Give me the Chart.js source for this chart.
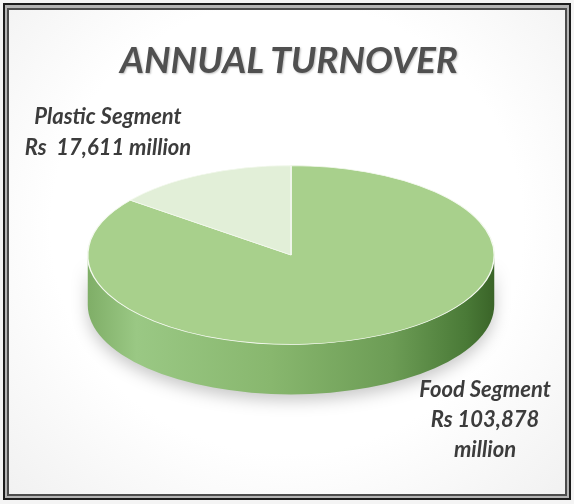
<!DOCTYPE html>
<html>
<head>
<meta charset="utf-8">
<script src="https://cdn.jsdelivr.net/npm/chart.js@4.4.0/dist/chart.umd.min.js"></script>
<style>
  body { margin: 0; background: #f4f4f4; }
  #wrap { position: relative; width: 574px; height: 504px; overflow: hidden; }
  .frame { position: absolute; left: 3px; top: 3px; width: 568px; height: 497px; box-sizing: border-box;
           border: 2px solid #1c1c1c; background: #b4b4b4; }
  .inner { position: absolute; left: 2px; top: 3px; right: 2px; bottom: 2px;
           border: 2px solid #4c4c4c;
           background: radial-gradient(ellipse at 50% 45%, #ffffff 60%, #f1f1f1 100%); }
  canvas { position: absolute; left: 0; top: 0; }
  .txt { position: absolute; font-family: Lato, "Open Sans", sans-serif; font-weight: bold; font-style: italic;
         color: #3c3c3c; white-space: pre; text-align: center; }
  #title { left: 0; width: 578px; top: 37px; font-size: 37px; line-height: 44px; color: #505050;
           text-shadow: 1px 1px 2px rgba(0,0,0,0.25); }
  #plasticLbl { left: 8px; width: 200px; top: 100px; font-size: 22px; line-height: 31px; }
  #foodLbl { left: 395px; width: 180px; top: 374px; font-size: 22px; line-height: 30px; }
</style>
</head>
<body>
<div id="wrap">
  <div class="frame"><div class="inner"></div></div>
  <canvas id="myChart" width="574" height="504"></canvas>
  <div class="txt" id="title"></div>
  <div class="txt" id="plasticLbl"></div>
  <div class="txt" id="foodLbl"></div>
</div>
<script>
'use strict'
// chart data
var chartTitle = 'ANNUAL TURNOVER';
var segments = ['Food Segment', 'Plastic Segment'];
var turnover = [103878, 17611];
var unitText = 'million';
var sliceColors = ['#a8d08c', '#e2efd8'];

// squash of the pie and height of its side
var flat = 0.44;
var depth = 50;

function fmt(v) {
    return v.toLocaleString('en-US');
}

document.getElementById('title').textContent = chartTitle;
document.getElementById('plasticLbl').textContent = segments[1] + '\nRs  ' + fmt(turnover[1]) + ' ' + unitText;
document.getElementById('foodLbl').textContent = segments[0] + '\nRs ' + fmt(turnover[0]) + '\n' + unitText;

// tilts the pie and draws the side under it
var tiltPlugin = {
    id: 'tilt',
    beforeDatasetsDraw: function (chart) {
        var ctx = chart.ctx;
        var arc = chart.getDatasetMeta(0).data[0];
        var x = arc.x, y = arc.y, r = arc.outerRadius;

        ctx.save();
        var grad = ctx.createLinearGradient(x - r, 0, x + r, 0);
        grad.addColorStop(0, '#7fae67');
        grad.addColorStop(0.12, '#9ac884');
        grad.addColorStop(0.45, '#88b76e');
        grad.addColorStop(0.75, '#6c9c55');
        grad.addColorStop(0.93, '#4a7a37');
        grad.addColorStop(1, '#3a6428');
        ctx.shadowColor = 'rgba(0,0,0,0.22)';
        ctx.shadowBlur = 16;
        ctx.shadowOffsetY = 6;
        ctx.fillStyle = grad;
        ctx.beginPath();
        ctx.ellipse(x, y + depth, r, r * flat, 0, 0, Math.PI);
        ctx.lineTo(x - r, y);
        ctx.ellipse(x, y, r, r * flat, 0, Math.PI, 0, true);
        ctx.closePath();
        ctx.fill();
        ctx.restore();

        ctx.save();
        ctx.translate(x, y);
        ctx.scale(1, flat);
        ctx.translate(-x, -y);
    },
    afterDatasetsDraw: function (chart) {
        chart.ctx.restore();
    }
};

var ctx = document.getElementById('myChart').getContext('2d');
var chart = new Chart(ctx, {
    type: 'pie',
    data: {
        labels: segments,
        datasets: [{
            data: turnover,
            backgroundColor: sliceColors,
            borderColor: '#f4f9ef',
            borderWidth: 1.5
        }]
    },
    options: {
        responsive: false,
        animation: false,
        events: [],
        rotation: 0,
        layout: { padding: { left: 87, right: 79, top: 51, bottom: 45 } },
        plugins: {
            legend: { display: false },
            tooltip: { enabled: false },
            title: { display: false }
        }
    },
    plugins: [tiltPlugin]
});
</script>
</body>
</html>
